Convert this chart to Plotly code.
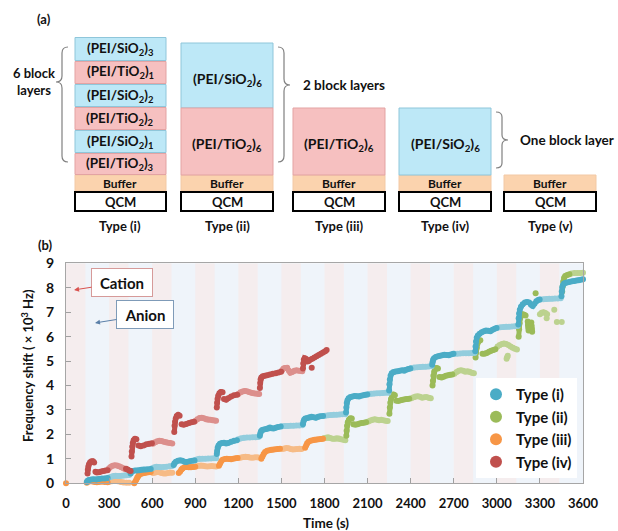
import plotly.graph_objects as go

# ---------------- data: panel (b) ----------------
# (time [s], frequency shift [x10^3 Hz]); None separates segments
iv_dark = [
 (150,0.40),(152,0.55),(155,0.68),(160,0.78),(168,0.86),(178,0.90),(188,0.90),(196,0.85), None,
 (205,0.47),(215,0.44),(230,0.45),(245,0.48),(260,0.50),(275,0.52),(290,0.53), None,
 (418,0.60),(428,0.56),(440,0.52),(450,0.50), None,
 (456,1.10),(458,1.30),(461,1.50),(465,1.65),(471,1.76),(480,1.82),(490,1.80), None,
 (505,1.55),(520,1.52),(540,1.55),(560,1.60),(580,1.62),(598,1.64), None,
 (754,2.10),(756,2.35),(759,2.52),(764,2.65),(771,2.75),(781,2.80),(791,2.76), None,
 (805,2.42),(820,2.40),(838,2.43),(856,2.47),(874,2.50),(892,2.52), None,
 (1050,3.10),(1052,3.30),(1055,3.45),(1060,3.58),(1068,3.68),(1078,3.74),(1090,3.72), None,
 (1100,3.45),(1115,3.42),(1130,3.48),(1150,3.55),(1170,3.60),(1192,3.62), None,
 (1350,3.90),(1352,4.10),(1355,4.25),(1360,4.33),(1370,4.38),(1385,4.40),(1400,4.42),(1420,4.45),
 (1440,4.48),(1460,4.50),(1480,4.53),(1498,4.56), None,
 (1650,4.70),(1652,4.90),(1656,5.05),(1662,5.12),(1670,5.10), None,
 (1680,4.98),(1690,5.00),(1700,5.05),(1715,5.10),(1730,5.15),(1745,5.20),(1760,5.25),(1775,5.30),
 (1790,5.35),(1805,5.40),(1815,5.45), None,
 (1711,4.73),
]
iv_light = [
 (300,0.62),(312,0.68),(325,0.72),(340,0.74),(355,0.73),(370,0.70),(385,0.66),(400,0.62),(410,0.58), None,
 (605,1.62),(620,1.68),(635,1.72),(650,1.74),(665,1.73),(680,1.70),(695,1.68),(710,1.66),(725,1.65),(740,1.63), None,
 (900,2.55),(915,2.62),(930,2.67),(945,2.68),(960,2.66),(975,2.62),(990,2.60),(1005,2.60),(1020,2.58),(1035,2.57),(1045,2.56), None,
 (1200,3.65),(1215,3.72),(1230,3.76),(1245,3.78),(1260,3.77),(1275,3.74),(1290,3.70),(1305,3.68),(1320,3.67),(1335,3.66),(1345,3.65), None,
 (1505,4.62),(1515,4.70),(1525,4.72),(1540,4.73),(1552,4.60),(1562,4.52),(1575,4.55),(1590,4.60),(1605,4.62),(1620,4.60),(1635,4.60),(1645,4.58),
]
i_dark = [
 (145,0.05),(150,0.10),(160,0.14),(175,0.16),(190,0.17),(210,0.16),(230,0.18),(250,0.20),(270,0.20),(290,0.22), None,
 (450,0.40),(455,0.47),(465,0.50),(480,0.52),(495,0.52),(510,0.53),(525,0.55),(540,0.56),(555,0.56),(570,0.57),(590,0.58), None,
 (750,0.75),(755,0.82),(765,0.88),(780,0.92),(795,0.94),(810,0.92),(825,0.88),(840,0.87),(860,0.90),(880,0.92),(895,0.93), None,
 (1050,1.20),(1052,1.32),(1056,1.45),(1062,1.55),(1072,1.62),(1085,1.65),(1100,1.66),(1115,1.63),(1130,1.65),(1150,1.70),(1170,1.74),(1190,1.76), None,
 (1350,1.95),(1353,2.05),(1358,2.13),(1366,2.18),(1378,2.20),(1392,2.22),(1408,2.25),(1420,2.28),(1432,2.25),(1445,2.24),(1460,2.27),(1475,2.30),(1495,2.32), None,
 (1650,2.42),(1653,2.52),(1658,2.60),(1666,2.65),(1680,2.67),(1695,2.70),(1710,2.72),(1725,2.70),(1740,2.68),(1755,2.72),(1770,2.74),(1790,2.75), None,
 (1950,2.90),(1952,3.10),(1955,3.28),(1960,3.40),(1968,3.48),(1980,3.53),(1995,3.55),(2010,3.57),(2025,3.56),(2040,3.55),(2055,3.58),(2070,3.60),(2085,3.62),(2098,3.63), None,
 (2250,3.80),(2252,4.05),(2255,4.25),(2260,4.40),(2268,4.50),(2280,4.55),(2295,4.57),(2310,4.58),(2325,4.60),(2340,4.62),(2355,4.60),(2370,4.65),(2385,4.68),(2398,4.70), None,
 (2550,4.85),(2552,4.95),(2556,5.05),(2563,5.12),(2575,5.17),(2590,5.20),(2605,5.22),(2620,5.24),(2635,5.26),(2650,5.25),(2665,5.24),(2680,5.27),(2698,5.30), None,
 (2850,5.40),(2852,5.60),(2855,5.80),(2860,5.95),(2868,6.05),(2880,6.12),(2895,6.18),(2910,6.22),(2925,6.25),(2940,6.24),(2955,6.22),(2970,6.28),(2985,6.32),(2998,6.35), None,
 (3150,6.50),(3152,6.75),(3155,6.95),(3160,7.10),(3168,7.22),(3180,7.32),(3195,7.40),(3210,7.42),(3225,7.40),(3238,7.30),(3250,7.25),(3262,7.35),(3275,7.45),(3288,7.50),(3298,7.52), None,
 (3450,7.65),(3452,7.85),(3455,8.00),(3460,8.10),(3468,8.17),(3480,8.20),(3495,8.22),(3510,8.25),(3525,8.27),(3540,8.28),(3555,8.30),(3570,8.31),(3585,8.33),(3600,8.35),
]
i_light = [
 (300,0.24),(315,0.27),(330,0.30),(345,0.31),(360,0.30),(375,0.30),(390,0.31),(405,0.32),(420,0.33),(440,0.34), None,
 (600,0.62),(615,0.66),(630,0.68),(645,0.67),(660,0.66),(680,0.67),(700,0.68),(720,0.70),(740,0.71), None,
 (900,0.95),(915,0.98),(930,1.00),(950,1.00),(970,1.00),(990,1.01),(1010,1.01),(1030,1.02),(1045,1.02), None,
 (1200,1.80),(1220,1.84),(1240,1.86),(1260,1.87),(1280,1.87),(1300,1.88),(1320,1.88),(1340,1.89), None,
 (1505,2.33),(1525,2.34),(1545,2.34),(1565,2.35),(1585,2.35),(1605,2.36),(1625,2.36),(1645,2.37), None,
 (1805,2.76),(1825,2.78),(1845,2.79),(1865,2.80),(1885,2.80),(1905,2.81),(1925,2.82),(1945,2.82), None,
 (2105,3.64),(2125,3.66),(2145,3.67),(2165,3.68),(2185,3.68),(2205,3.69),(2225,3.70),(2245,3.70), None,
 (2405,4.72),(2425,4.74),(2445,4.75),(2465,4.76),(2485,4.77),(2505,4.77),(2525,4.78),(2545,4.79), None,
 (2705,5.30),(2725,5.30),(2745,5.31),(2765,5.32),(2785,5.32),(2805,5.32),(2825,5.33),(2845,5.33), None,
 (3005,6.36),(3025,6.38),(3045,6.39),(3065,6.40),(3085,6.40),(3105,6.41),(3125,6.42),(3145,6.43), None,
 (3305,7.52),(3325,7.53),(3345,7.54),(3365,7.55),(3385,7.55),(3405,7.56),(3425,7.56),(3445,7.57),
]
ii_dark = [
 (1952,1.95),(1954,2.15),(1957,2.35),(1962,2.50),(1970,2.60),(1980,2.66),(1990,2.65), None,
 (2000,2.42),(2015,2.40),(2030,2.42),(2045,2.45),(2060,2.47),(2075,2.48),(2090,2.50), None,
 (2252,2.85),(2255,3.10),(2258,3.30),(2263,3.45),(2270,3.57),(2280,3.63),(2290,3.60), None,
 (2300,3.38),(2315,3.37),(2330,3.40),(2345,3.42),(2360,3.44),(2375,3.45),(2390,3.46), None,
 (2552,4.00),(2555,4.20),(2558,4.40),(2563,4.55),(2570,4.66),(2580,4.72),(2590,4.70), None,
 (2600,4.35),(2615,4.33),(2630,4.36),(2645,4.40),(2660,4.42),(2675,4.44),(2690,4.45), None,
 (2852,5.15),(2856,5.35),(2860,5.55),(2866,5.72),(2875,5.82),(2885,5.85), None,
 (2900,5.30),(2915,5.30),(2930,5.33),(2945,5.38),(2960,5.42),(2975,5.45),(2990,5.48), None,
 (3152,6.00),(3155,6.30),(3158,6.55),(3163,6.75),(3170,6.87),(3180,6.92),(3190,6.90),(3200,6.86), None,
 (3215,6.62),(3217,6.48),(3219,6.36),(3221,6.25), None,
 (3240,6.58),(3242,6.45),(3244,6.32),(3246,6.20), None,
 (3270,7.77), None,
 (3455,7.85),(3458,8.05),(3462,8.25),(3468,8.40),(3476,8.48),(3490,8.52),(3505,8.55),
]
ii_light = [
 (1795,1.84),(1810,1.86),(1825,1.88),(1840,1.85),(1855,1.82),(1870,1.82),(1885,1.84),(1900,1.83),(1915,1.80),(1930,1.78),(1945,1.76), None,
 (2105,2.53),(2120,2.57),(2135,2.60),(2150,2.62),(2165,2.60),(2180,2.58),(2195,2.60),(2210,2.58),(2225,2.56),(2240,2.55), None,
 (2405,3.48),(2420,3.52),(2435,3.55),(2450,3.56),(2465,3.54),(2480,3.50),(2495,3.52),(2510,3.53),(2525,3.50),(2540,3.48), None,
 (2705,4.48),(2720,4.55),(2735,4.60),(2750,4.62),(2765,4.60),(2780,4.56),(2795,4.58),(2810,4.56),(2825,4.52),(2840,4.50), None,
 (3005,5.60),(3020,5.66),(3035,5.70),(3050,5.72),(3065,5.70),(3080,5.66),(3095,5.60),(3110,5.55),(3125,5.50),(3140,5.47), None,
 (3068,5.10),(3072,5.16),(3076,5.22), None,
 (3300,6.92),(3312,6.98),(3325,7.00),(3338,6.97),(3350,6.92), None,
 (3347,6.75), None, (3400,7.10), None, (3418,6.60), None, (3452,6.60), None,
 (3520,8.58),(3540,8.60),(3560,8.60),(3580,8.60),(3600,8.61),
]
iii_dark = [
 (0,0.0), None,
 (145,0.02),(155,0.06),(170,0.08),(185,0.07),(200,0.05),(215,0.04),(230,0.05),(250,0.06),(270,0.05),(290,0.04), None,
 (475,0.00),(482,0.06),(489,0.15),(496,0.24),(505,0.32),(518,0.38),(530,0.40),(545,0.42),(560,0.44),(575,0.45),(590,0.46), None,
 (785,0.42),(795,0.48),(803,0.56),(812,0.62),(825,0.66),(840,0.67),(855,0.66),(870,0.66),(885,0.67),(900,0.68), None,
 (1065,0.72),(1072,0.80),(1080,0.90),(1090,0.96),(1105,0.99),(1120,1.00),(1135,0.99),(1150,0.98),(1165,1.00),(1180,1.02),(1195,1.03), None,
 (1360,1.00),(1368,1.10),(1376,1.20),(1386,1.28),(1400,1.33),(1415,1.35),(1430,1.37),(1445,1.38),(1460,1.39),(1475,1.40),(1490,1.41), None,
 (1665,1.45),(1672,1.55),(1679,1.64),(1689,1.70),(1703,1.74),(1717,1.76),(1731,1.78),(1745,1.79),(1760,1.80),(1775,1.81),(1790,1.82),
]
iii_light = [
 (300,0.05),(320,0.08),(340,0.10),(360,0.08),(380,0.05),(400,0.03),(420,0.02),(440,0.02), None,
 (605,0.42),(620,0.44),(635,0.46),(650,0.45),(665,0.42),(680,0.40),(695,0.40),(710,0.42),(725,0.44),(740,0.43), None,
 (910,0.70),(925,0.72),(940,0.73),(955,0.72),(970,0.70),(985,0.69),(1000,0.70),(1015,0.71),(1030,0.70),(1045,0.69), None,
 (1205,1.04),(1220,1.06),(1235,1.08),(1250,1.09),(1265,1.08),(1280,1.06),(1295,1.05),(1310,1.06),(1325,1.07),(1340,1.06), None,
 (1505,1.40),(1520,1.42),(1535,1.44),(1550,1.43),(1565,1.40),(1580,1.38),(1595,1.39),(1610,1.40),(1625,1.41),(1640,1.40),
]

series_names = ["Type (i)", "Type (ii)", "Type (iii)", "Type (iv)"]
x_ticks = [0, 300, 600, 900, 1200, 1500, 1800, 2100, 2400, 2700, 3000, 3300, 3600]
y_ticks = [0, 1, 2, 3, 4, 5, 6, 7, 8, 9]
cation_start = [0, 300, 600, 900, 1200, 1500, 1800, 2100, 2400, 2700, 3000, 3300]
cation_len = 135

# ---------------- styling ----------------
W, H = 618, 531
FONT = "Lato, 'Open Sans', sans-serif"
DARK = {"Type (i)": "#4bacc6", "Type (ii)": "#9bbb59", "Type (iii)": "#f79646", "Type (iv)": "#c0504d"}
LIGHT = {"Type (i)": "#93cddd", "Type (ii)": "#bcd28f", "Type (iii)": "#f6bb86", "Type (iv)": "#dc8f8c"}
PINK_BAND = "#f5edee"
BLUE_BAND = "#eff4fa"

def X(px):
    return px / W

def Y(py):
    return 1 - py / H

def unzip(pairs):
    xs, ys = [], []
    for p in pairs:
        if p is None:
            xs.append(None); ys.append(None)
        else:
            xs.append(p[0]); ys.append(p[1])
    return xs, ys

fig = go.Figure()

data_sets = [
    ("Type (ii)", ii_dark, ii_light),
    ("Type (iii)", iii_dark, iii_light),
    ("Type (i)", i_dark, i_light),
    ("Type (iv)", iv_dark, iv_light),
]
for name, dark, light in data_sets:
    for pairs, col in ((light, LIGHT[name]), (dark, DARK[name])):
        xs, ys = unzip(pairs)
        fig.add_trace(go.Scatter(
            x=xs, y=ys, mode="lines+markers", showlegend=False,
            line=dict(color=col, width=5), marker=dict(color=col, size=6),
            connectgaps=False, hoverinfo="skip", cliponaxis=False))

for name in series_names:
    fig.add_trace(go.Scatter(x=[None], y=[None], mode="markers", name=name,
                             marker=dict(color=DARK[name], size=12)))

shapes = []
# cation (pink) bands
for s in cation_start:
    shapes.append(dict(type="rect", xref="x", yref="y", x0=s, x1=s + cation_len, y0=0, y1=9,
                       fillcolor=PINK_BAND, line=dict(width=0), layer="below"))

# ---------------- panel (a) schematic ----------------
C_SI = "#bde8f7"; C_SI_L = "#8fc6da"
C_TI = "#f6c0c0"; C_TI_L = "#e3a3a3"
C_BUF = "#fbd3ae"

annots = []
def rect(x0, y0, x1, y1, fill, lc, lw=1):
    shapes.append(dict(type="rect", xref="paper", yref="paper", x0=X(x0), x1=X(x1),
                       y0=Y(y1), y1=Y(y0), fillcolor=fill, line=dict(color=lc, width=lw), layer="above"))

def label(x, y, txt, size=13, anchor="center", color="#111111"):
    annots.append(dict(x=X(x), y=Y(y), xref="paper", yref="paper", text=txt, showarrow=False,
                       xanchor=anchor, yanchor="middle", font=dict(family=FONT, size=size, color=color)))

SI = "<b>(PEI/SiO<sub>2</sub>)<sub>%s</sub></b>"
TI = "<b>(PEI/TiO<sub>2</sub>)<sub>%s</sub></b>"

stacks_x = [(75, 166), (181, 273), (293, 385), (399, 491), (504, 596)]
type_labels = ["Type (i)", "Type (ii)", "Type (iii)", "Type (iv)", "Type (v)"]
for (x0, x1), tl in zip(stacks_x, type_labels):
    rect(x0, 175, x1, 191, C_BUF, "#f2c9a5", 1)
    label((x0 + x1) / 2, 183.5, "<b>Buffer</b>", 12)
    rect(x0, 192, x1, 211, "white", "black", 2)
    label((x0 + x1) / 2, 201.5, "<b>QCM</b>", 13)
    label((x0 + x1) / 2, 226, "<b>%s</b>" % tl, 13)

# type (i) layers
layers_i = [(37, 61, C_SI, C_SI_L, SI % "3"), (61, 84, C_TI, C_TI_L, TI % "1"),
            (84, 107, C_SI, C_SI_L, SI % "2"), (107, 130, C_TI, C_TI_L, TI % "2"),
            (130, 153, C_SI, C_SI_L, SI % "1"), (153, 175, C_TI, C_TI_L, TI % "3")]
for y0, y1, f, lc, t in layers_i:
    rect(75, y0 + 0.5, 166, y1 - 0.5, f, lc, 1)
    label(120.5, (y0 + y1) / 2, t, 13.5)
# type (ii)
rect(181, 43, 273, 108, C_SI, C_SI_L, 1); label(227, 79, SI % "6", 14)
rect(181, 108, 273, 175, C_TI, C_TI_L, 1); label(227, 145, TI % "6", 14)
# type (iii)
rect(293, 108, 385, 175, C_TI, C_TI_L, 1); label(339, 145, TI % "6", 14)
# type (iv)
rect(399, 108, 491, 175, C_SI, C_SI_L, 1); label(445, 145, SI % "6", 14)

def brace(pts_cmds):
    return dict(type="path", xref="paper", yref="paper", path=pts_cmds,
                line=dict(color="#808080", width=1.2), layer="above")

def P(px, py):
    return "%.5f,%.5f" % (X(px), Y(py))

shapes.append(brace("M %s Q %s %s L %s Q %s %s Q %s %s L %s Q %s %s" % (
    P(68, 47), P(62, 47), P(62, 53), P(62, 76), P(62, 82), P(56, 82),
    P(62, 82), P(62, 88), P(62, 156), P(62, 162), P(68, 162))))
shapes.append(brace("M %s Q %s %s L %s Q %s %s Q %s %s L %s Q %s %s" % (
    P(278, 47), P(284, 47), P(284, 53), P(284, 79), P(284, 85), P(290, 85),
    P(284, 85), P(284, 91), P(284, 156), P(284, 162), P(278, 162))))
shapes.append(brace("M %s Q %s %s L %s Q %s %s Q %s %s L %s Q %s %s" % (
    P(496, 112), P(502, 112), P(502, 117), P(502, 135), P(502, 140), P(508, 140),
    P(502, 140), P(502, 145), P(502, 163), P(502, 168), P(496, 168))))

label(11, 81.5, "<b>6 block<br>layers</b>", 13, anchor="left")
label(301, 85, "<b>2 block layers</b>", 13.5, anchor="left")
label(518, 140, "<b>One block layer</b>", 13.5, anchor="left")
label(44, 19, "<b>(a)</b>", 13)
label(45, 245, "<b>(b)</b>", 13)

# axis titles
annots.append(dict(x=X(27), y=Y(366), xref="paper", yref="paper", showarrow=False, textangle=-90,
                   xanchor="center", yanchor="middle",
                   text="<b>Frequency shift ( × 10<sup>3</sup> Hz)</b>",
                   font=dict(family=FONT, size=13, color="#111111")))
label(326, 523, "<b>Time (s)</b>", 13.5)

# Cation / Anion callouts
annots.append(dict(x=56, y=7.91, xref="x", yref="y", ax=48, ay=-7.5, text="<b>Cation</b>",
                   xanchor="center", yanchor="middle", width=52, height=19,
                   showarrow=True, arrowhead=2, arrowsize=1, arrowwidth=1, arrowcolor="#d9534f",
                   bgcolor="white", bordercolor="#d69a99", borderwidth=1, borderpad=4,
                   font=dict(family=FONT, size=15, color="#111111")))
annots.append(dict(x=202, y=6.56, xref="x", yref="y", ax=50, ay=-8, text="<b>Anion</b>",
                   xanchor="center", yanchor="middle", width=48, height=19,
                   showarrow=True, arrowhead=2, arrowsize=1, arrowwidth=1, arrowcolor="#5a7fa8",
                   bgcolor="white", bordercolor="#7f9bb8", borderwidth=1, borderpad=4,
                   font=dict(family=FONT, size=15, color="#111111")))

fig.update_layout(
    width=W, height=H, margin=dict(l=0, r=0, t=0, b=0, autoexpand=False),
    autosize=False,
    paper_bgcolor="white", plot_bgcolor=BLUE_BAND,
    shapes=shapes, annotations=annots,
    font=dict(family=FONT, color="#111111"),
    xaxis=dict(domain=[X(66), X(583)], range=[0, 3600], tickvals=x_ticks, automargin=False,
               ticks="inside", ticklen=5, tickcolor="#a0a0a0", showgrid=False, zeroline=False,
               showline=True, linecolor="#a6a6a6", mirror=True, linewidth=1,
               tickfont=dict(family=FONT, size=13, weight="bold", color="#111111"),
               ticklabelstandoff=8),
    yaxis=dict(domain=[Y(483.3), Y(263.3)], range=[0, 9], tickvals=y_ticks, automargin=False,
               ticks="inside", ticklen=5, tickcolor="#a0a0a0", showgrid=False, zeroline=False,
               showline=True, linecolor="#a6a6a6", mirror=True, linewidth=1,
               tickfont=dict(family=FONT, size=14, weight="bold", color="#111111"),
               ticklabelstandoff=8),
    legend=dict(x=X(476), y=Y(378), xanchor="left", yanchor="top", bgcolor="white",
                font=dict(family=FONT, size=15, weight="bold", color="#111111"),
                itemwidth=30, tracegroupgap=0),
)

fig.write_html("out.html", config={"displayModeBar": False},
               post_script="document.body.style.margin='0';document.body.style.padding='0';"
                           "document.documentElement.style.overflow='hidden';")
